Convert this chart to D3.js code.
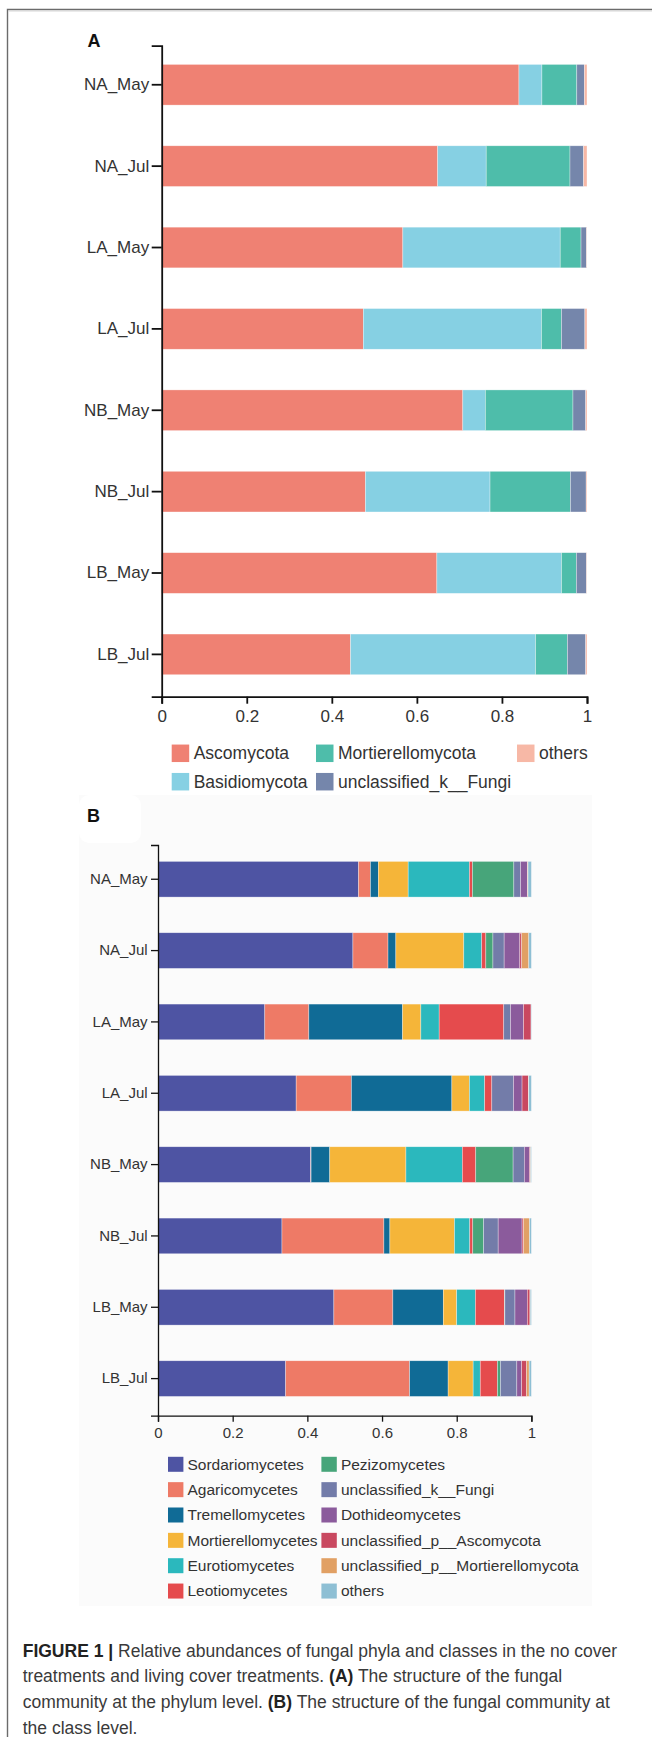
<!DOCTYPE html>
<html>
<head>
<meta charset="utf-8">
<script src="https://cdn.jsdelivr.net/npm/d3@7"></script>
<style>
  html, body { margin: 0; padding: 0; background: #fff; }
  svg { display: block; }
  text { font-family: "Liberation Sans", Arial, Helvetica, sans-serif; }
</style>
</head>
<body>
<svg id="fig" width="652" height="1737"></svg>
<script>
// ---- data -------------------------------------------------------------
const samples = ["NA_May", "NA_Jul", "LA_May", "LA_Jul", "NB_May", "NB_Jul", "LB_May", "LB_Jul"];
const xTicks = [0, 0.2, 0.4, 0.6, 0.8, 1];

// phylum level (panel A), one array per phylum, in sample order
const phyla = ["Ascomycota", "Basidiomycota", "Mortierellomycota", "unclassified_k__Fungi", "others"];
const ascomycota        = [0.840, 0.649, 0.567, 0.474, 0.708, 0.479, 0.647, 0.444];
const basidiomycota     = [0.054, 0.114, 0.370, 0.419, 0.053, 0.293, 0.293, 0.435];
const mortierellomycota = [0.082, 0.197, 0.049, 0.047, 0.206, 0.189, 0.035, 0.075];
const unclassifiedFungiPhylum = [0.018, 0.032, 0.013, 0.055, 0.030, 0.037, 0.024, 0.043];
const othersPhylum      = [0.006, 0.008, 0.001, 0.005, 0.003, 0.002, 0.001, 0.003];
const phylumColors = ["#ef8173", "#86d0e3", "#4ebdaa", "#7586ab", "#f7b8a6"];

// class level (panel B), one array per class, in sample order
const classes = ["Sordariomycetes", "Agaricomycetes", "Tremellomycetes", "Mortierellomycetes",
  "Eurotiomycetes", "Leotiomycetes", "Pezizomycetes", "unclassified_k__Fungi", "Dothideomycetes",
  "unclassified_p__Ascomycota", "unclassified_p__Mortierellomycota", "others"];
const sordariomycetes    = [0.537, 0.522, 0.286, 0.370, 0.409, 0.332, 0.471, 0.342];
const agaricomycetes     = [0.032, 0.094, 0.118, 0.148, 0.001, 0.273, 0.158, 0.332];
const tremellomycetes    = [0.021, 0.021, 0.251, 0.269, 0.050, 0.016, 0.135, 0.103];
const mortierellomycetes = [0.080, 0.182, 0.049, 0.047, 0.204, 0.173, 0.036, 0.067];
const eurotiomycetes     = [0.164, 0.048, 0.049, 0.041, 0.151, 0.041, 0.050, 0.019];
const leotiomycetes      = [0.008, 0.011, 0.173, 0.019, 0.036, 0.008, 0.078, 0.046];
const pezizomycetes      = [0.111, 0.019, 0.000, 0.000, 0.100, 0.029, 0.001, 0.008];
const unclassifiedFungiClass = [0.018, 0.030, 0.018, 0.058, 0.030, 0.039, 0.027, 0.044];
const dothideomycetes    = [0.018, 0.042, 0.035, 0.023, 0.014, 0.064, 0.033, 0.013];
const unclassifiedAscomycota = [0.001, 0.005, 0.020, 0.017, 0.002, 0.004, 0.007, 0.013];
const unclassifiedMortierellomycota = [0.001, 0.019, 0.000, 0.001, 0.001, 0.016, 0.001, 0.007];
const othersClass        = [0.009, 0.007, 0.001, 0.007, 0.002, 0.005, 0.003, 0.006];
const classColors = ["#4e54a3", "#ee7a66", "#106b96", "#f5b539", "#2bb8bd", "#e54b4d",
  "#47a57a", "#737ca9", "#8b5b9c", "#c94860", "#e1a064", "#8ebfd4"];

// ---- helpers ----------------------------------------------------------
const svg = d3.select("#fig");

function toRows(names, arrays) {
  return samples.map((s, i) => {
    const row = { sample: s };
    names.forEach((n, k) => { row[n] = arrays[k][i]; });
    return row;
  });
}

function drawPanel(opt) {
  const rows = toRows(opt.names, opt.arrays);
  const stack = d3.stack().keys(opt.names)(rows);
  const color = d3.scaleOrdinal().domain(opt.names).range(opt.colors);

  const x = d3.scaleLinear().domain([0, 1]).range([opt.x0, opt.x1]);
  const y = d3.scaleBand().domain(samples).range([opt.y0, opt.y1])
    .paddingInner(0.5).paddingOuter(0.25).align(0.46);

  const g = svg.append("g");

  g.append("g").selectAll("g").data(stack).join("g")
    .attr("fill", d => color(d.key))
    .selectAll("rect").data(d => d).join("rect")
    .attr("x", d => x(d[0]))
    .attr("y", d => y(d.data.sample))
    .attr("width", d => Math.max(0, x(d[1]) - x(d[0])))
    .attr("height", y.bandwidth())
    .attr("stroke", "#ffffff")
    .attr("stroke-opacity", 0.55)
    .attr("stroke-width", 0.6);

  const yAxis = g.append("g")
    .attr("transform", `translate(${opt.x0},0)`)
    .call(d3.axisLeft(y).tickSize(opt.yTick).tickPadding(opt.yPad));
  const xAxis = g.append("g")
    .attr("transform", `translate(0,${opt.y1})`)
    .call(d3.axisBottom(x).tickValues(xTicks).tickFormat(d3.format("~g"))
      .tickSize(opt.xTick).tickPadding(opt.xPad));

  [yAxis, xAxis].forEach(a => {
    a.select(".domain").attr("stroke", "#111").attr("stroke-width", opt.axisW);
    a.selectAll(".tick line").attr("stroke", "#111").attr("stroke-width", opt.axisW);
    a.selectAll(".tick text").attr("fill", "#333")
      .style("font-family", '"Liberation Sans", Arial, sans-serif')
      .style("font-size", opt.tickFont + "px");
  });

  // legend
  const lg = g.append("g");
  opt.names.forEach((n, k) => {
    const col = Math.floor(k / opt.legendRows);
    const row = k % opt.legendRows;
    const lx = opt.legendCols[col];
    const ly = opt.legendY + row * opt.legendStep;
    lg.append("rect")
      .attr("x", lx).attr("y", ly - opt.swatchH / 2)
      .attr("width", opt.swatchW).attr("height", opt.swatchH)
      .attr("fill", color(n));
    lg.append("text")
      .attr("x", lx + opt.textGap).attr("y", ly)
      .attr("dy", "0.35em")
      .attr("fill", "#333")
      .style("font-size", opt.legendFont + "px")
      .text(n);
  });

  g.append("text")
    .attr("x", opt.labelX).attr("y", opt.labelY)
    .attr("fill", "#111")
    .style("font-size", "18px").style("font-weight", "bold")
    .text(opt.label);
}

// ---- frame ------------------------------------------------------------
svg.append("path")
  .attr("d", "M7.5,1737V9.5H652")
  .attr("fill", "none").attr("stroke", "#6b6b6b").attr("stroke-width", 1.4);
svg.append("line")
  .attr("x1", 8.5).attr("x2", 652).attr("y1", 11).attr("y2", 11)
  .attr("stroke", "#d6d6d6").attr("stroke-width", 1);

// light backdrop behind the class-level panel
svg.append("rect")
  .attr("x", 79).attr("y", 795).attr("width", 513).attr("height", 811)
  .attr("fill", "#fbfbfb");
svg.append("rect")
  .attr("x", 79).attr("y", 795).attr("width", 62).attr("height", 48).attr("rx", 10)
  .attr("fill", "#ffffff");

// ---- panel A: phylum level ---------------------------------------------
drawPanel({
  label: "A", labelX: 87.5, labelY: 46.7,
  names: phyla,
  arrays: [ascomycota, basidiomycota, mortierellomycota, unclassifiedFungiPhylum, othersPhylum],
  colors: phylumColors,
  x0: 161.7, x1: 587, y0: 45.7, y1: 696.7,
  yTick: 10, yPad: 2.5, xTick: 7, xPad: 6, axisW: 1.8, tickFont: 17,
  legendRows: 2, legendCols: [171.7, 316, 517], legendY: 753.3, legendStep: 28.4,
  swatchW: 17.5, swatchH: 17.5, textGap: 22, legendFont: 17.5
});

// ---- panel B: class level ----------------------------------------------
drawPanel({
  label: "B", labelX: 87, labelY: 821.7,
  names: classes,
  arrays: [sordariomycetes, agaricomycetes, tremellomycetes, mortierellomycetes, eurotiomycetes,
    leotiomycetes, pezizomycetes, unclassifiedFungiClass, dothideomycetes,
    unclassifiedAscomycota, unclassifiedMortierellomycota, othersClass],
  colors: classColors,
  x0: 158, x1: 531.4, y0: 845, y1: 1415.7,
  yTick: 7, yPad: 3.4, xTick: 6, xPad: 6, axisW: 1.3, tickFont: 15,
  legendRows: 6, legendCols: [168, 321.4], legendY: 1464.3, legendStep: 25.35,
  swatchW: 15.4, swatchH: 15, textGap: 19.5, legendFont: 15.5
});

// ---- caption ----------------------------------------------------------
const captionLines = [
  [["FIGURE 1 |", true], [" Relative abundances of fungal phyla and classes in the no cover", false]],
  [["treatments and living cover treatments. ", false], ["(A)", true], [" The structure of the fungal", false]],
  [["community at the phylum level. ", false], ["(B)", true], [" The structure of the fungal community at", false]],
  [["the class level.", false]]
];
const cap = svg.append("g");
captionLines.forEach((parts, i) => {
  const t = cap.append("text")
    .attr("x", 22.7).attr("y", 1656.5 + i * 25.8)
    .attr("fill", "#333")
    .style("font-size", "17.5px");
  parts.forEach(([s, bold]) => {
    t.append("tspan")
      .style("font-weight", bold ? "bold" : "normal")
      .attr("fill", bold ? "#222" : "#3a3a3a")
      .text(s);
  });
});
</script>
</body>
</html>
